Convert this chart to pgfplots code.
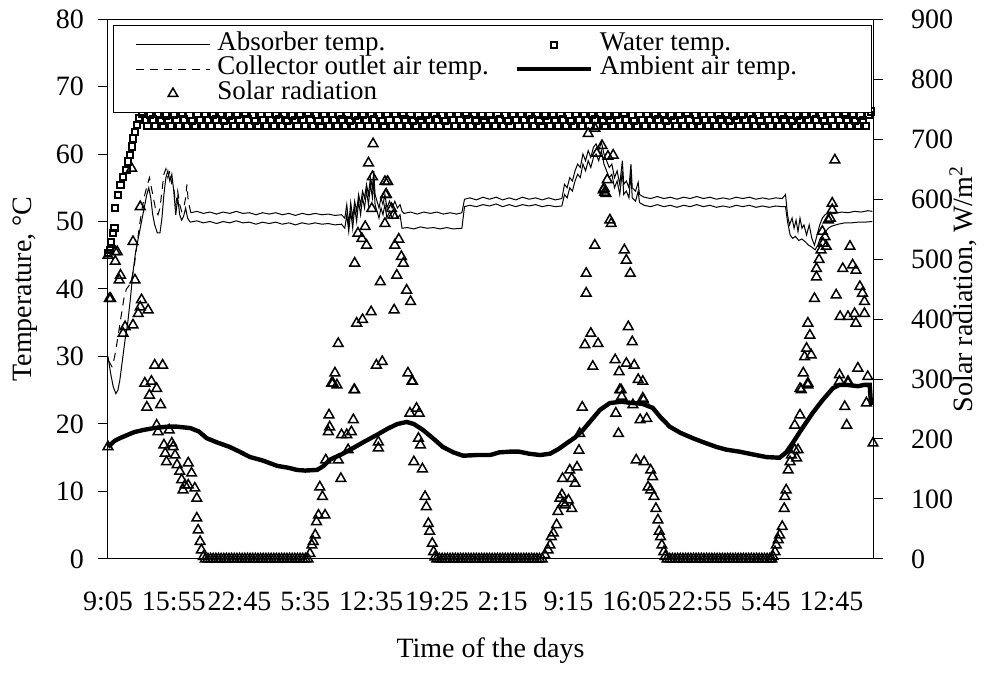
\documentclass[border=0pt]{standalone}
\usepackage{fontspec}
\setmainfont{Liberation Serif}
\usepackage{pgfplots}
\pgfplotsset{compat=1.18}
\begin{document}
\begin{tikzpicture}[font=\fontsize{14}{16}\selectfont]
\useasboundingbox (-54pt,-62.5pt) rectangle (438.5pt,279.5pt);
\begin{axis}[
  at={(0,0)}, anchor=south west,
  scale only axis, width=382.5pt, height=270pt,
  xmin=0, xmax=11.63, ymin=0, ymax=80,
  clip=false,
  xtick={0,1,2,3,4,5,6,7,8,9,10,11},
  xticklabels={9:05,15:55,22:45,5:35,12:35,19:25,2:15,9:15,16:05,22:55,5:45,12:45},
  xtick style={draw=none},
  xticklabel style={anchor=north, text height=9.3pt, text depth=0pt, yshift=-8pt},
  ytick={0,10,...,80},
  ytick pos=left, xtick pos=bottom,
  tick align=outside,
  major tick length=5pt,
  yticklabel style={xshift=-3.5pt},
  /pgf/number format/assume math mode=true,
  axis line style={line width=0.5pt},
  every tick/.style={line width=0.5pt, black},
  ylabel={Temperature, °C},
  ylabel style={at={(axis description cs:-0.108,0.5)}, anchor=center},
  xlabel={Time of the days},
  xlabel style={at={(axis description cs:0.5,-0.183)}, anchor=base},
  legend image code/.code={\draw[mark repeat=2,mark phase=2,#1] plot coordinates {(0pt,0pt) (18.5pt,0pt) (37pt,0pt)};},
  legend columns=2,
  legend cell align=left,
  legend style={at={(axis description cs:0.0065,0.989)}, anchor=north west,
    draw=black, line width=0.5pt, fill=white,
    font=\fontsize{13.5}{15}\selectfont,
    inner xsep=11pt, inner ysep=3.5pt, column sep=3.5pt, row sep=0pt,
    nodes={inner sep=0pt, text height=9pt, text depth=3.25pt}},
]
% Absorber temp. (lower thin solid)
\addplot[black, line width=0.5pt] coordinates {
(0,30.0)(0.04,27.5)(0.08,25.5)(0.12,24.5)(0.15,25.0)(0.18,26.5)(0.22,29.5)(0.26,32.5)(0.30,35.0)(0.34,38.5)(0.38,42.5)(0.42,45.5)(0.46,47.5)(0.50,49.5)(0.55,52.0)(0.59,54.0)(0.62,55.0)(0.65,53.5)(0.68,51.0)(0.71,49.5)(0.75,48.3)(0.79,48.3)(0.82,50.5)(0.85,54.0)(0.88,56.5)(0.91,57.5)(0.94,56.0)(0.97,57.0)(1.00,54.5)(1.03,51.0)(1.06,53.5)(1.09,51.0)(1.12,50.2)(1.15,50.8)(1.18,52.0)(1.21,50.5)(1.25,49.9)
(1.35,50.1)(1.45,49.8)(1.55,50.0)(1.65,49.7)(1.75,50.0)(1.85,49.8)(1.95,50.1)(2.05,49.8)(2.15,49.9)(2.25,49.6)(2.35,49.9)(2.45,49.7)(2.55,49.9)(2.65,49.6)(2.75,49.8)(2.85,49.5)(2.95,49.8)(3.05,49.6)(3.15,49.8)(3.25,49.6)(3.35,49.7)(3.45,49.5)(3.55,49.6)
(3.60,49.0)(3.63,51.0)(3.66,48.5)(3.69,51.5)(3.72,49.0)(3.75,52.0)(3.78,50.0)(3.81,53.0)(3.84,51.0)(3.87,53.5)(3.90,52.0)(3.93,54.5)(3.96,52.5)(3.99,55.5)(4.02,53.5)(4.04,56.0)(4.06,52.5)(4.09,51.5)(4.12,50.5)(4.15,52.0)(4.18,51.0)(4.21,52.5)(4.24,50.5)(4.28,51.5)(4.32,50.5)(4.36,51.5)(4.40,50.5)(4.44,51.0)(4.47,49.0)
(4.55,49.1)(4.65,48.9)(4.75,49.2)(4.85,49.0)(4.95,49.1)(5.05,48.9)(5.15,49.1)(5.25,48.9)(5.38,49.0)(5.42,52.2)(5.50,52.4)
(5.60,52.2)(5.70,52.5)(5.80,52.3)(5.90,52.6)(6.00,52.2)(6.10,52.5)(6.20,52.2)(6.30,52.5)(6.40,52.3)(6.50,52.5)(6.60,52.2)(6.70,52.4)(6.80,52.2)(6.90,52.3)
(6.94,54.0)(6.98,53.5)(7.02,55.0)(7.06,54.5)(7.10,56.0)(7.14,57.0)(7.18,56.5)(7.22,58.5)(7.26,57.5)(7.30,59.0)(7.34,58.0)(7.38,59.5)(7.42,60.0)(7.46,59.0)(7.50,60.5)(7.54,58.5)(7.58,57.5)(7.62,56.5)(7.66,57.0)(7.70,55.0)(7.74,56.0)(7.78,54.0)(7.82,57.5)(7.84,54.0)(7.88,54.5)(7.92,53.5)(7.95,57.0)(7.97,53.5)(8.02,53.0)(8.06,54.5)(8.08,52.8)(8.15,52.4)
(8.25,52.2)(8.35,52.5)(8.45,52.2)(8.55,52.4)(8.65,52.1)(8.75,52.4)(8.85,52.2)(8.95,52.5)(9.05,52.2)(9.15,52.4)(9.25,52.1)(9.35,52.3)(9.45,52.1)(9.55,52.4)(9.65,52.2)(9.75,52.4)(9.85,52.1)(9.95,52.3)(10.05,52.1)(10.15,52.3)(10.25,52.2)(10.30,52.2)
(10.33,50.0)(10.37,48.0)(10.41,47.5)(10.45,47.8)(10.50,47.2)(10.55,47.4)(10.60,47.0)(10.65,46.5)(10.70,46.2)(10.75,45.8)(10.79,46.5)(10.83,47.5)(10.87,48.0)(10.91,48.5)(10.95,49.0)(11.00,49.3)(11.10,49.6)(11.20,49.8)(11.30,49.8)(11.40,49.9)(11.50,49.9)(11.62,50.0)
};
\addlegendentry{\makebox[145pt][l]{Absorber temp.}}
% Water temp. (squares)
\addplot[only marks, mark=square, mark size=1.55pt, mark options={line width=1pt, black}] coordinates {
(0.00,45.3)(0.03,45.8)(0.05,47.0)(0.07,48.3)(0.10,49.0)(0.11,52.0)(0.15,53.9)(0.19,55.4)(0.23,56.6)(0.28,57.6)(0.31,58.9)(0.33,59.9)(0.36,61.1)(0.38,62.3)(0.41,63.3)(0.44,64.3)(0.48,65.3)
(0.52,65.9)(0.56,65.0)(0.60,64.1)(0.64,65.8)(0.68,65.1)(0.72,64.2)(0.76,65.9)(0.80,64.9)(0.84,64.1)(0.88,65.7)(0.92,65.0)(0.96,64.2)
(1.00,65.8)(1.04,65.0)(1.08,64.2)(1.12,65.9)(1.16,65.1)(1.20,64.1)(1.24,65.8)(1.28,64.9)(1.32,64.2)(1.36,65.9)(1.40,65.0)(1.44,64.1)
(1.48,65.9)(1.52,65.0)(1.56,64.1)(1.60,65.8)(1.64,65.1)(1.68,64.2)(1.72,65.9)(1.76,64.9)(1.80,64.1)(1.84,65.7)(1.88,65.0)(1.92,64.2)
(1.96,65.8)(2.00,65.0)(2.04,64.2)(2.08,65.9)(2.12,65.1)(2.16,64.1)(2.20,65.8)(2.24,64.9)(2.28,64.2)(2.32,65.9)(2.36,65.0)(2.40,64.1)
(2.44,65.9)(2.48,65.0)(2.52,64.1)(2.56,65.8)(2.60,65.1)(2.64,64.2)(2.68,65.9)(2.72,64.9)(2.76,64.1)(2.80,65.7)(2.84,65.0)(2.88,64.2)
(2.92,65.8)(2.96,65.0)(3.00,64.2)(3.04,65.9)(3.08,65.1)(3.12,64.1)(3.16,65.8)(3.20,64.9)(3.24,64.2)(3.28,65.9)(3.32,65.0)(3.36,64.1)
(3.40,65.9)(3.44,65.0)(3.48,64.1)(3.52,65.8)(3.56,65.1)(3.60,64.2)(3.64,65.9)(3.68,64.9)(3.72,64.1)(3.76,65.7)(3.80,65.0)(3.84,64.2)
(3.88,65.8)(3.92,65.0)(3.96,64.2)(4.00,65.9)(4.04,65.1)(4.08,64.1)(4.12,65.8)(4.16,64.9)(4.20,64.2)(4.24,65.9)(4.28,65.0)(4.32,64.1)
(4.36,65.9)(4.40,65.0)(4.44,64.1)(4.48,65.8)(4.52,65.1)(4.56,64.2)(4.60,65.9)(4.64,64.9)(4.68,64.1)(4.72,65.7)(4.76,65.0)(4.80,64.2)
(4.84,65.8)(4.88,65.0)(4.92,64.2)(4.96,65.9)(5.00,65.1)(5.04,64.1)(5.08,65.8)(5.12,64.9)(5.16,64.2)(5.20,65.9)(5.24,65.0)(5.28,64.1)
(5.32,65.9)(5.36,65.0)(5.40,64.1)(5.44,65.8)(5.48,65.1)(5.52,64.2)(5.56,65.9)(5.60,64.9)(5.64,64.1)(5.68,65.7)(5.72,65.0)(5.76,64.2)
(5.80,65.8)(5.84,65.0)(5.88,64.2)(5.92,65.9)(5.96,65.1)(6.00,64.1)(6.04,65.8)(6.08,64.9)(6.12,64.2)(6.16,65.9)(6.20,65.0)(6.24,64.1)
(6.28,65.9)(6.32,65.0)(6.36,64.1)(6.40,65.8)(6.44,65.1)(6.48,64.2)(6.52,65.9)(6.56,64.9)(6.60,64.1)(6.64,65.7)(6.68,65.0)(6.72,64.2)
(6.76,65.8)(6.80,65.0)(6.84,64.2)(6.88,65.9)(6.92,65.1)(6.96,64.1)(7.00,65.8)(7.04,64.9)(7.08,64.2)(7.12,65.9)(7.16,65.0)(7.20,64.1)
(7.24,65.9)(7.28,65.0)(7.32,64.1)(7.36,65.8)(7.40,65.1)(7.44,64.2)(7.48,65.9)(7.52,64.9)(7.56,64.1)(7.60,65.7)(7.64,65.0)(7.68,64.2)
(7.72,65.8)(7.76,65.0)(7.80,64.2)(7.84,65.9)(7.88,65.1)(7.92,64.1)(7.96,65.8)(8.00,64.9)(8.04,64.2)(8.08,65.9)(8.12,65.0)(8.16,64.1)
(8.20,65.9)(8.24,65.0)(8.28,64.1)(8.32,65.8)(8.36,65.1)(8.40,64.2)(8.44,65.9)(8.48,64.9)(8.52,64.1)(8.56,65.7)(8.60,65.0)(8.64,64.2)
(8.68,65.8)(8.72,65.0)(8.76,64.2)(8.80,65.9)(8.84,65.1)(8.88,64.1)(8.92,65.8)(8.96,64.9)(9.00,64.2)(9.04,65.9)(9.08,65.0)(9.12,64.1)
(9.16,65.9)(9.20,65.0)(9.24,64.1)(9.28,65.8)(9.32,65.1)(9.36,64.2)(9.40,65.9)(9.44,64.9)(9.48,64.1)(9.52,65.7)(9.56,65.0)(9.60,64.2)
(9.64,65.8)(9.68,65.0)(9.72,64.2)(9.76,65.9)(9.80,65.1)(9.84,64.1)(9.88,65.8)(9.92,64.9)(9.96,64.2)(10.00,65.9)(10.04,65.0)(10.08,64.1)
(10.12,65.9)(10.16,65.0)(10.20,64.1)(10.24,65.8)(10.28,65.1)(10.32,64.2)(10.36,65.9)(10.40,64.9)(10.44,64.1)(10.48,65.7)(10.52,65.0)(10.56,64.2)
(10.60,65.8)(10.64,65.0)(10.68,64.2)(10.72,65.9)(10.76,65.1)(10.80,64.1)(10.84,65.8)(10.88,64.9)(10.92,64.2)(10.96,65.9)(11.00,65.0)(11.04,64.1)
(11.08,65.9)(11.12,65.0)(11.16,64.1)(11.20,65.8)(11.24,65.1)(11.28,64.2)(11.32,65.9)(11.36,64.9)(11.40,64.1)(11.44,65.7)(11.48,65.0)(11.52,64.2)
(11.56,65.8)(11.60,66.3)
};
\addlegendentry{\makebox[125pt][l]{Water temp.}}
% Collector outlet air temp. (upper; dashed where it rises)
\addplot[black, line width=0.5pt, dash pattern=on 4pt off 3pt] coordinates {
(0,29.5)(0.03,29.0)(0.06,28.5)(0.09,29.5)(0.12,31.0)(0.16,33.5)(0.20,36.0)(0.24,38.5)(0.28,40.0)(0.32,40.5)(0.36,41.5)(0.40,43.5)(0.44,46.5)(0.48,49.5)(0.52,52.0)(0.56,54.0)(0.60,55.5)(0.63,56.5)(0.66,55.0)(0.70,53.0)(0.73,51.5)(0.76,51.0)(0.79,52.0)(0.82,54.5)(0.85,57.0)(0.88,57.8)(0.91,56.5)(0.94,57.5)(0.97,55.5)(1.00,55.0)(1.03,52.5)(1.06,54.5)(1.09,52.5)(1.12,51.5)(1.15,52.0)(1.18,53.5)(1.20,55.5)(1.22,53.0)(1.26,51.3)
};
\addlegendentry{\makebox[145pt][l]{Collector outlet air temp.}}
% Ambient air temp. (thick)
\addplot[black, line width=2.2pt] coordinates {
(0,16.6)(0.10,17.5)(0.18,17.9)(0.30,18.4)(0.40,18.8)(0.53,19.1)(0.70,19.4)(0.90,19.6)(1.05,19.6)(1.25,19.4)(1.38,18.9)(1.50,17.9)(1.65,17.3)(1.85,16.6)(2.00,15.9)(2.16,15.1)(2.35,14.6)(2.57,13.8)(2.75,13.5)(2.87,13.2)(3.00,13.1)(3.18,13.2)(3.28,13.8)(3.37,14.7)(3.55,15.5)(3.72,16.4)(3.90,17.4)(4.09,18.4)(4.25,19.3)(4.40,20.0)(4.54,20.3)(4.65,20.0)(4.79,19.1)(4.95,17.8)(5.09,16.6)(5.25,15.8)(5.40,15.3)(5.60,15.4)(5.81,15.4)(5.95,15.8)(6.11,15.9)(6.25,15.9)(6.40,15.6)(6.57,15.4)(6.72,15.6)(6.85,16.3)(6.98,17.2)(7.10,18.0)(7.22,19.1)(7.35,20.6)(7.48,22.1)(7.63,23.1)(7.80,23.3)(7.98,23.1)(8.12,23.0)(8.28,22.4)(8.40,21.0)(8.54,19.6)(8.70,18.7)(8.89,17.9)(9.05,17.3)(9.25,16.6)(9.40,16.2)(9.60,15.9)(9.80,15.5)(10.01,15.1)(10.21,15.0)(10.31,15.8)(10.41,17.2)(10.55,19.3)(10.71,21.6)(10.86,23.5)(11.02,25.3)(11.12,25.8)(11.23,25.8)(11.40,25.6)(11.50,25.8)(11.58,25.8)(11.60,22.8)
};
\addlegendentry{\makebox[125pt][l]{Ambient air temp.}}
% Collector outlet air temp., rest of the record (dense data, drawn solid)
\addplot[black, line width=0.5pt, forget plot] coordinates {
(1.26,51.3)(1.35,51.5)(1.45,51.2)(1.55,51.4)(1.65,51.1)(1.75,51.4)(1.85,51.2)(1.95,51.5)(2.05,51.2)(2.15,51.3)(2.25,51.0)(2.35,51.3)(2.45,51.1)(2.55,51.3)(2.65,51.0)(2.75,51.2)(2.85,50.9)(2.95,51.2)(3.05,51.0)(3.15,51.2)(3.25,51.0)(3.35,51.1)(3.45,50.9)(3.55,51.0)
(3.60,50.5)(3.63,52.5)(3.66,49.5)(3.69,52.8)(3.72,50.5)(3.75,53.0)(3.78,51.5)(3.81,54.0)(3.84,52.5)(3.87,54.5)(3.90,53.5)(3.93,55.5)(3.96,54.0)(3.99,56.5)(4.02,55.0)(4.04,57.5)(4.06,54.0)(4.09,53.0)(4.12,52.0)(4.15,53.5)(4.18,52.5)(4.21,54.0)(4.24,52.0)(4.28,53.0)(4.32,52.0)(4.36,53.0)(4.40,52.0)(4.44,52.5)(4.47,51.5)(4.50,51.2)
(4.60,51.4)(4.70,51.1)(4.80,51.4)(4.90,51.2)(5.00,51.4)(5.10,51.1)(5.20,51.3)(5.30,51.1)(5.38,51.3)(5.42,53.3)(5.50,53.5)(5.60,53.2)(5.70,53.6)(5.80,53.3)(5.90,53.6)(6.00,53.2)(6.10,53.5)(6.20,53.2)(6.30,53.6)(6.40,53.3)(6.50,53.5)(6.60,53.2)(6.70,53.5)(6.80,53.2)(6.90,53.4)
(6.94,55.5)(6.98,55.0)(7.02,56.5)(7.06,56.0)(7.10,57.5)(7.14,58.5)(7.18,58.0)(7.22,60.0)(7.26,59.0)(7.30,60.5)(7.34,59.5)(7.38,61.0)(7.42,61.5)(7.46,60.5)(7.50,61.8)(7.54,60.0)(7.58,59.0)(7.62,58.0)(7.66,58.5)(7.70,56.5)(7.74,57.5)(7.78,55.5)(7.82,59.0)(7.84,55.5)(7.88,56.0)(7.92,55.0)(7.95,58.5)(7.97,55.0)(8.02,54.5)(8.06,55.8)(8.08,54.0)(8.15,53.6)
(8.25,53.4)(8.35,53.7)(8.45,53.4)(8.55,53.6)(8.65,53.3)(8.75,53.6)(8.85,53.4)(8.95,53.7)(9.05,53.4)(9.15,53.6)(9.25,53.3)(9.35,53.5)(9.45,53.3)(9.55,53.6)(9.65,53.4)(9.75,53.6)(9.85,53.3)(9.95,53.5)(10.05,53.3)(10.15,53.5)(10.25,53.4)(10.30,54.0)
(10.33,51.0)(10.36,49.5)(10.40,50.5)(10.43,49.0)(10.46,50.2)(10.49,48.5)(10.52,50.5)(10.55,49.0)(10.58,49.5)(10.62,48.0)(10.66,49.5)(10.70,47.5)(10.74,46.5)(10.78,48.0)(10.82,49.5)(10.86,50.5)(10.90,51.0)(10.95,51.3)(11.05,51.2)(11.15,51.4)(11.25,51.3)(11.35,51.5)(11.45,51.4)(11.55,51.6)(11.62,51.5)
};
\addlegendimage{only marks, mark=triangle, mark size=2.8pt, mark options={line width=0.75pt, black}}
\addlegendentry{\makebox[145pt][l]{Solar radiation}}
\end{axis}
\begin{axis}[
  at={(0,0)}, anchor=south west,
  scale only axis, width=382.5pt, height=270pt,
  xmin=0, xmax=11.63, ymin=0, ymax=900,
  clip=false,
  axis x line=none, axis y line*=right,
  ytick={0,100,...,900},
  tick align=outside,
  major tick length=5pt,
  yticklabel style={xshift=10.5pt},
  /pgf/number format/assume math mode=true,
  axis line style={line width=0.5pt},
  every tick/.style={line width=0.5pt, black},
  ylabel={Solar radiation, W/m\textsuperscript{2}},
  ylabel style={at={(axis description cs:1.118,0.5)}, anchor=center},
]
\addplot[only marks, mark=triangle, mark size=2.8pt, mark options={line width=0.75pt, black}] coordinates {
(0.00,187)(0.02,434)(0.04,434)(0.00,506)(0.11,512)(0.14,512)(0.11,496)(0.17,465)(0.19,473)(0.23,376)(0.26,387)(0.38,390)(0.38,529)(0.41,465)(0.46,409)(0.51,432)(0.49,420)(0.61,415)(0.49,587)(0.36,651)(0.71,323)(0.83,323)(0.56,293)(0.66,296)(0.74,284)(0.63,273)(0.59,253)(0.80,257)(0.74,223)(0.76,212)(0.93,215)(0.85,190)(0.97,193)(0.87,176)(0.99,187)(0.89,162)(1.02,173)(1.05,157)(1.09,146)(1.12,132)(1.22,160)(1.27,143)(1.17,123)(1.14,115)(1.22,123)(1.32,118)(1.35,101)(1.35,68)(1.37,48)(1.40,29)(1.42,15)(1.45,4)
(1.48,0)(1.52,0)(1.56,0)(1.60,0)(1.64,0)(1.68,0)(1.72,0)(1.76,0)(1.80,0)(1.84,0)(1.88,0)(1.92,0)(1.96,0)(2.00,0)(2.04,0)(2.08,0)(2.12,0)(2.16,0)(2.20,0)(2.24,0)(2.28,0)(2.32,0)(2.36,0)(2.40,0)(2.44,0)(2.48,0)(2.52,0)(2.56,0)(2.60,0)(2.64,0)(2.68,0)(2.72,0)(2.76,0)(2.80,0)(2.84,0)(2.88,0)(2.92,0)(2.96,0)(3.00,0)(3.04,0)
(3.07,9)(3.10,23)(3.12,29)(3.15,40)(3.17,62)(3.20,73)(3.30,73)(3.22,120)(3.26,104)(3.31,165)(3.35,212)(3.37,220)(3.36,240)(3.40,293)(3.48,290)(3.50,165)(3.54,134)(3.55,207)(3.63,207)(3.70,212)(3.73,232)(3.74,282)(3.65,182)(3.45,310)(3.42,293)(3.75,282)(3.50,359)(3.78,393)(3.87,399)(4.00,412)(4.08,323)(4.17,329)(3.75,493)(3.80,543)(3.86,534)(3.93,523)(3.91,554)(4.14,462)(4.01,584)(4.21,559)(4.31,584)(4.34,573)(4.22,607)(4.25,629)(4.35,415)(4.39,473)(4.36,523)(4.42,533)(4.46,504)(4.49,493)(4.54,448)(4.60,429)(4.56,310)(4.62,296)(4.03,692)(3.96,660)(4.02,637)(4.21,629)(4.25,629)(4.23,608)(4.11,195)(4.11,185)(4.63,296)(4.59,243)(4.69,251)(4.73,243)(4.72,201)(4.75,190)(4.65,162)(4.78,150)(4.82,104)(4.84,87)(4.87,59)(4.89,46)(4.93,26)(4.95,12)(4.97,3)
(5.00,0)(5.04,0)(5.08,0)(5.12,0)(5.16,0)(5.20,0)(5.24,0)(5.28,0)(5.32,0)(5.36,0)(5.40,0)(5.44,0)(5.48,0)(5.52,0)(5.56,0)(5.60,0)(5.64,0)(5.68,0)(5.72,0)(5.76,0)(5.80,0)(5.84,0)(5.88,0)(5.92,0)(5.96,0)(6.00,0)(6.04,0)(6.08,0)(6.12,0)(6.16,0)(6.20,0)(6.24,0)(6.28,0)(6.32,0)(6.36,0)(6.40,0)(6.44,0)(6.48,0)(6.52,0)(6.56,0)(6.60,0)
(6.64,7)(6.69,15)(6.72,23)(6.74,37)(6.77,43)(6.82,57)(6.84,79)(6.87,101)(6.90,107)(6.92,93)(6.95,90)(7.00,98)(7.05,84)(6.91,134)(7.02,148)(7.05,134)(7.10,126)(7.13,153)(7.16,181)(7.17,209)(7.21,253)(7.37,321)(7.25,357)(7.34,376)(7.45,359)(7.27,443)(7.27,476)(7.40,523)(7.63,565)(7.65,559)(7.53,615)(7.57,609)(7.30,709)(7.40,718)(7.51,689)(7.43,676)(7.60,671)(7.68,673)(7.59,632)(7.54,618)(7.55,611)
(7.72,243)(7.76,209)(7.78,282)(7.81,271)(7.98,257)(8.09,232)(8.19,234)(8.14,265)(8.03,165)(8.15,162)(8.25,148)(8.28,137)(8.21,120)(8.25,115)(8.30,104)(8.33,84)(8.36,65)(8.38,46)(8.40,37)(8.42,23)(8.45,12)(8.47,4)(7.85,515)(7.88,498)(7.94,476)(7.91,387)(7.97,362)(7.71,332)(7.88,326)(7.77,312)(8.00,323)(8.06,299)(8.13,296)(7.80,282)(8.13,268)
(8.50,0)(8.54,0)(8.58,0)(8.62,0)(8.66,0)(8.70,0)(8.74,0)(8.78,0)(8.82,0)(8.86,0)(8.90,0)(8.94,0)(8.98,0)(9.02,0)(9.06,0)(9.10,0)(9.14,0)(9.18,0)(9.22,0)(9.26,0)(9.30,0)(9.34,0)(9.38,0)(9.42,0)(9.46,0)(9.50,0)(9.54,0)(9.58,0)(9.62,0)(9.66,0)(9.70,0)(9.74,0)(9.78,0)(9.82,0)(9.86,0)(9.90,0)(9.94,0)(9.98,0)(10.02,0)(10.06,0)(10.09,0)
(10.11,4)(10.14,12)(10.16,23)(10.19,32)(10.21,40)(10.25,54)(10.28,84)(10.29,104)(10.31,115)(10.34,148)(10.37,162)(10.39,173)(10.44,182)(10.47,168)(10.49,182)(10.44,223)(10.52,240)(10.54,282)(10.64,290)(10.64,293)(10.52,284)(10.57,310)(10.59,337)(10.69,340)(10.62,351)(10.64,393)(10.67,373)(10.74,434)(10.77,470)(10.77,484)(10.81,499)(10.84,515)(10.87,526)(10.90,537)(10.92,521)(10.86,546)(10.95,565)(10.98,568)(11.01,582)(11.01,593)(11.28,521)(11.17,484)(11.32,490)(11.37,481)(11.07,440)(11.43,454)(11.47,443)(11.50,429)(11.13,404)(11.25,404)(11.35,409)(11.50,409)(11.37,393)(11.40,318)(11.12,307)(11.25,296)(11.55,304)(11.20,254)(11.23,223)(11.53,260)(11.63,193)(11.12,296)(11.25,293)(11.05,665)
};
\end{axis}
\end{tikzpicture}
\end{document}
